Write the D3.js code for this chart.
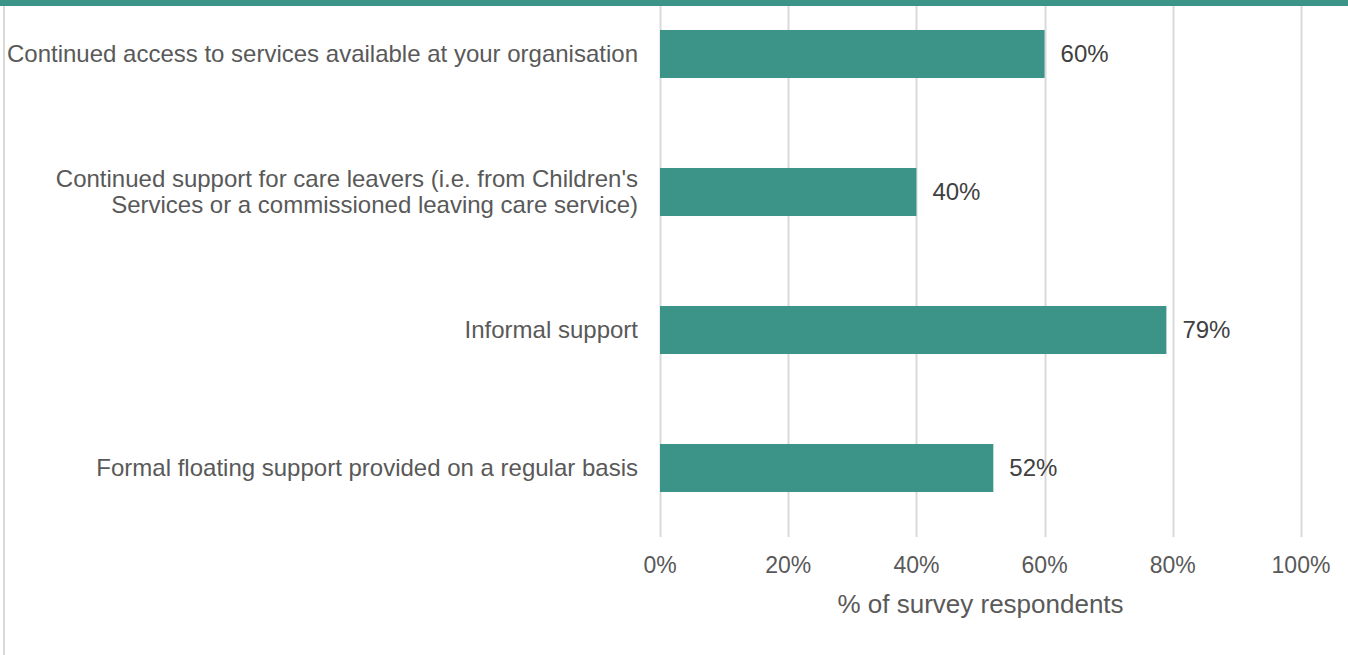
<!DOCTYPE html>
<html><head><meta charset="utf-8">
<script src="https://cdn.jsdelivr.net/npm/d3@7"></script>
<style>body{margin:0;background:#fff;}svg{display:block;font-family:"Liberation Sans",Arial,sans-serif;}</style>
</head><body>
<svg id="chart" width="1348" height="655"></svg>
<script>
const categories = [
  ["Continued access to services available at your organisation"],
  ["Continued support for care leavers (i.e. from Children's", "Services or a commissioned leaving care service)"],
  ["Informal support"],
  ["Formal floating support provided on a regular basis"]
];
const values = [0.60, 0.40, 0.79, 0.52];
const valueLabels = ["60%", "40%", "79%", "52%"];
const tickValues = [0, 0.2, 0.4, 0.6, 0.8, 1.0];
const tickLabels = ["0%", "20%", "40%", "60%", "80%", "100%"];
const axisTitle = "% of survey respondents";

const teal = "#3c9488";
const svg = d3.select("#chart");
const W = 1348, H = 655;

const x = d3.scaleLinear().domain([0, 1]).range([660, 1301]);
const ids = categories.map((c, i) => i);
const y = d3.scaleBand().domain(ids).range([-15, 537]).paddingInner(0.652).paddingOuter(0.326);

// left border
svg.append("rect").attr("x", 3).attr("y", 0).attr("width", 2).attr("height", H).attr("fill", "#d9d9d9");

// gridlines
svg.append("g").selectAll("line").data(tickValues).join("line")
  .attr("x1", d => Math.round(x(d)) + 0.5).attr("x2", d => Math.round(x(d)) + 0.5)
  .attr("y1", -15).attr("y2", 537)
  .attr("stroke", "#d9d9d9").attr("stroke-width", 2);

// bars
svg.append("g").selectAll("rect").data(values).join("rect")
  .attr("x", x(0)).attr("y", (d, i) => y(i))
  .attr("width", d => x(d) - x(0)).attr("height", y.bandwidth())
  .attr("fill", teal);

// value labels
svg.append("g").selectAll("text").data(values).join("text")
  .attr("x", d => x(d) + 16).attr("y", (d, i) => y(i) + y.bandwidth() / 2)
  .attr("dy", "0.35em").attr("font-size", 24).attr("fill", "#404040")
  .text((d, i) => valueLabels[i]);

// category labels
const lineH = 26;
svg.append("g").selectAll("text").data(categories).join("text")
  .attr("x", 638)
  .attr("y", (d, i) => y(i) + y.bandwidth() / 2 - (d.length - 1) * lineH / 2)
  .attr("text-anchor", "end").attr("font-size", 24).attr("fill", "#595959")
  .each(function(d) {
    d3.select(this).selectAll("tspan").data(d).join("tspan")
      .attr("x", 638).attr("dy", (t, j) => j === 0 ? "0.35em" : lineH).text(t => t);
  });

// x axis tick labels
svg.append("g").selectAll("text").data(tickValues).join("text")
  .attr("x", d => x(d)).attr("y", 565).attr("dy", "0.35em")
  .attr("text-anchor", "middle").attr("font-size", 23).attr("fill", "#595959")
  .text((d, i) => tickLabels[i]);

// axis title
svg.append("text").attr("x", (x(0) + x(1)) / 2).attr("y", 604).attr("dy", "0.35em")
  .attr("text-anchor", "middle").attr("font-size", 26).attr("fill", "#595959")
  .text(axisTitle);

// top teal band
svg.append("rect").attr("x", 0).attr("y", 0).attr("width", W).attr("height", 6).attr("fill", teal);
</script>
</body></html>
